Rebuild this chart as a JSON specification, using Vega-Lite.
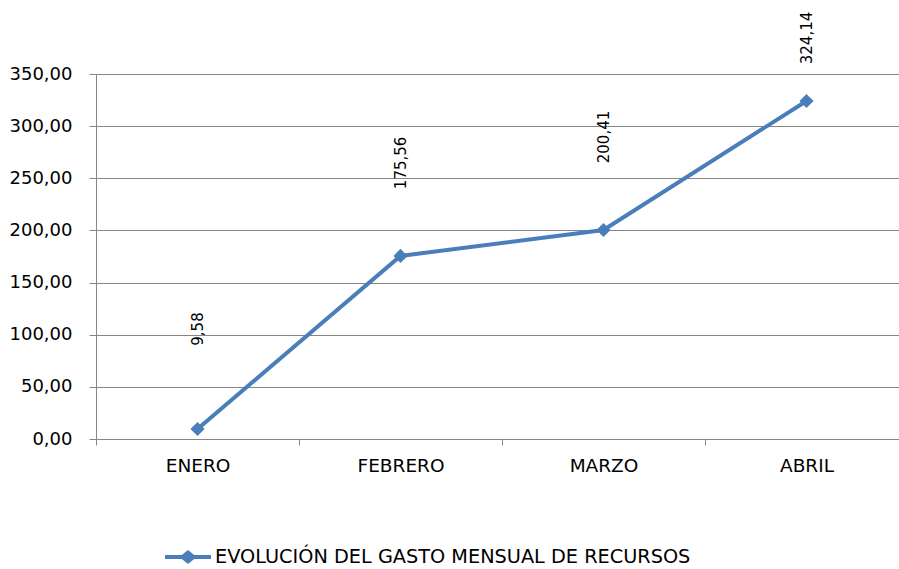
{
  "$schema": "https://vega.github.io/schema/vega-lite/v6.json",
  "width": 803,
  "height": 365,
  "autosize": {"type": "none"},
  "padding": {"left": 96, "top": 74, "right": 0, "bottom": 130},
  "config": {
    "view": {"stroke": null},
    "locale": {"number": {"decimal": ",", "thousands": ".", "grouping": [3], "currency": ["", " €"]}},
    "font": "DejaVu Sans"
  },
  "data": {"values": [
    {"mes": "ENERO", "valor": 9.58, "serie": "EVOLUCIÓN DEL GASTO MENSUAL DE RECURSOS"},
    {"mes": "FEBRERO", "valor": 175.56, "serie": "EVOLUCIÓN DEL GASTO MENSUAL DE RECURSOS"},
    {"mes": "MARZO", "valor": 200.41, "serie": "EVOLUCIÓN DEL GASTO MENSUAL DE RECURSOS"},
    {"mes": "ABRIL", "valor": 324.14, "serie": "EVOLUCIÓN DEL GASTO MENSUAL DE RECURSOS"}
  ]},
  "encoding": {
    "x": {
      "field": "mes", "type": "nominal", "sort": null,
      "scale": {"type": "band", "range": [0, 812], "paddingInner": 0, "paddingOuter": 0},
      "axis": {
        "title": null, "labelAngle": 0, "labelFontSize": 18.5, "labelColor": "#000000",
        "labelFont": "DejaVu Sans",
        "domainColor": "#868686", "tickColor": "#868686", "tickSize": 6, "tickBand": "extent",
        "labelPadding": 11, "grid": false
      }
    },
    "y": {
      "field": "valor", "type": "quantitative",
      "scale": {"domain": [0, 350], "nice": false},
      "axis": {
        "title": null, "values": [0, 50, 100, 150, 200, 250, 300, 350], "format": ".2f",
        "labelFontSize": 18, "labelColor": "#000000", "labelFont": "DejaVu Sans",
        "domainColor": "#868686", "tickColor": "#868686", "tickSize": 7,
        "gridColor": "#868686", "gridWidth": 1, "labelPadding": 17
      }
    }
  },
  "layer": [
    {
      "mark": {"type": "line", "strokeWidth": 4, "point": {"shape": "diamond", "size": 200, "filled": true, "opacity": 1}},
      "encoding": {
        "color": {
          "field": "serie", "type": "nominal",
          "scale": {"range": ["#4A7EBB"]},
          "legend": {
            "title": null, "orient": "none", "legendX": 69, "legendY": 460,
            "symbolType": "M-1,-0.09H-0.27L0,-0.3L0.27,-0.09H1V0.09H0.27L0,0.3L-0.27,0.09H-1Z",
            "symbolSize": 2116, "symbolFillColor": "#4A7EBB", "symbolStrokeWidth": 0,
            "labelFontSize": 19.3, "labelColor": "#000000", "labelFont": "DejaVu Sans", "labelOffset": 4, "labelLimit": 700
          }
        }
      }
    },
    {
      "mark": {"type": "text", "angle": 270, "align": "center", "baseline": "middle", "fontSize": 15, "color": "#000000",
        "dx": {"expr": "datum.valor > 300 ? 63 : (datum.valor < 50 ? 100 : 93)"}},
      "encoding": {
        "text": {"field": "valor", "type": "quantitative", "format": ".2f"}
      }
    }
  ]
}
